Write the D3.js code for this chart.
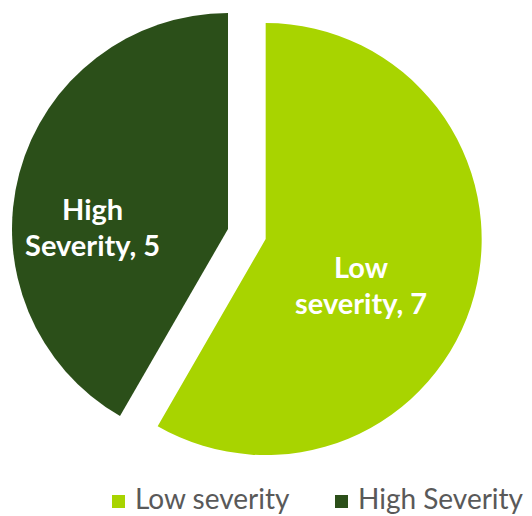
<!DOCTYPE html>
<html>
<head>
<meta charset="utf-8">
<script src="https://cdn.jsdelivr.net/npm/d3@7"></script>
<style>
  body { margin: 0; background: #fff; }
  svg { display: block; }
</style>
</head>
<body>
<div id="chart"></div>
<script>
// data
var categories = ["Low severity", "High Severity"];
var values = [7, 5];
var labelLines = [["Low", "severity, 7"], ["High", "Severity, 5"]];
var colors = ["#A8D400", "#2B4F19"];

var width = 532, height = 516;
var cx = 228, cy = 229, radius = 216;
var explode = [39, 0];
// Excel-style label placement: distance from slice centre, plus a nudge
var labelRadius = [106, 135];
var labelNudge = [[-7, 19], [-5, 34]];

var svg = d3.select("#chart").append("svg")
    .attr("width", width)
    .attr("height", height);

var pie = d3.pie()
    .sort(null)
    .value(function(d) { return d; });

var arc = d3.arc()
    .innerRadius(0)
    .outerRadius(radius);

var arcs = pie(values);

var g = svg.append("g")
    .attr("transform", "translate(" + cx + "," + cy + ")");

var slice = g.selectAll("g.slice")
    .data(arcs)
    .enter().append("g")
    .attr("class", "slice")
    .attr("transform", function(d, i) {
        var a = (d.startAngle + d.endAngle) / 2;
        return "translate(" + (Math.sin(a) * explode[i]) + "," + (-Math.cos(a) * explode[i]) + ")";
    });

slice.append("path")
    .attr("d", arc)
    .attr("fill", function(d, i) { return colors[i]; });

slice.append("text")
    .attr("text-anchor", "middle")
    .attr("font-family", "Lato, 'Open Sans', sans-serif")
    .attr("font-weight", "bold")
    .attr("font-size", "29px")
    .attr("fill", "#fff")
    .attr("transform", function(d, i) {
        var a = (d.startAngle + d.endAngle) / 2;
        var x = Math.sin(a) * labelRadius[i] + labelNudge[i][0];
        var y = -Math.cos(a) * labelRadius[i] + labelNudge[i][1];
        return "translate(" + x + "," + y + ")";
    })
    .selectAll("tspan")
    .data(function(d, i) { return labelLines[i]; })
    .enter().append("tspan")
    .attr("x", 0)
    .attr("y", function(d, j) { return (j === 0 ? -8 : 28); })
    .text(function(d) { return d; });

// legend
var legend = svg.append("g")
    .attr("class", "legend");

var legendX = [112, 335];

var item = legend.selectAll("g")
    .data(categories)
    .enter().append("g")
    .attr("transform", function(d, i) { return "translate(" + legendX[i] + ",495)"; });

item.append("rect")
    .attr("width", 13)
    .attr("height", 13)
    .attr("fill", function(d, i) { return colors[i]; });

item.append("text")
    .attr("x", 23)
    .attr("y", 14)
    .attr("font-family", "Lato, 'Open Sans', sans-serif")
    .attr("font-size", "28px")
    .attr("fill", "#595959")
    .text(function(d) { return d; });
</script>
</body>
</html>
